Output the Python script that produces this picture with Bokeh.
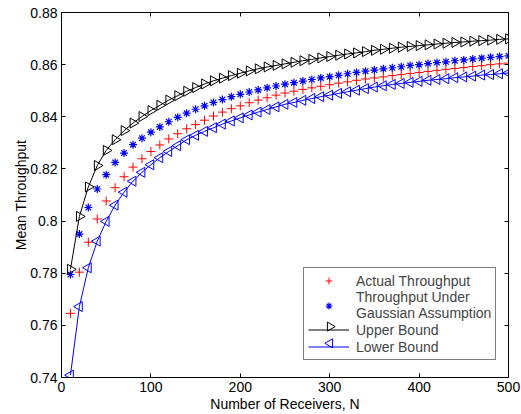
from bokeh.plotting import figure
from bokeh.models import (Range1d, LinearAxis, FixedTicker, CustomJSTickFormatter,
                          Legend, LegendItem)
from bokeh.embed import file_html
from bokeh.resources import INLINE

N = [10, 20, 30, 40, 50, 60, 70, 80, 90, 100,
     110, 120, 130, 140, 150, 160, 170, 180, 190, 200,
     210, 220, 230, 240, 250, 260, 270, 280, 290, 300,
     310, 320, 330, 340, 350, 360, 370, 380, 390, 400,
     410, 420, 430, 440, 450, 460, 470, 480, 490, 500]

upper = [0.7815, 0.8018, 0.8131, 0.8213, 0.8271, 0.8312, 0.8347, 0.8376, 0.8401, 0.8424,
         0.8444, 0.8464, 0.8481, 0.8498, 0.8512, 0.8526, 0.8538, 0.8548, 0.8558, 0.8567,
         0.8576, 0.8584, 0.8591, 0.8597, 0.8603, 0.8609, 0.8615, 0.8620, 0.8626, 0.8631,
         0.8636, 0.8641, 0.8645, 0.8650, 0.8655, 0.8659, 0.8663, 0.8667, 0.8670, 0.8673,
         0.8676, 0.8679, 0.8682, 0.8685, 0.8687, 0.8690, 0.8692, 0.8694, 0.8697, 0.8699]

gaussian = [0.7795, 0.7950, 0.8052, 0.8123, 0.8178, 0.8225, 0.8261, 0.8293, 0.8318, 0.8341,
            0.8361, 0.8381, 0.8398, 0.8414, 0.8429, 0.8442, 0.8455, 0.8466, 0.8477, 0.8486,
            0.8495, 0.8503, 0.8511, 0.8518, 0.8525, 0.8531, 0.8537, 0.8543, 0.8549, 0.8554,
            0.8559, 0.8565, 0.8570, 0.8575, 0.8579, 0.8584, 0.8588, 0.8592, 0.8597, 0.8600,
            0.8604, 0.8608, 0.8611, 0.8615, 0.8618, 0.8622, 0.8625, 0.8628, 0.8631, 0.8634]

actual = [0.7646, 0.7804, 0.7919, 0.8008, 0.8077, 0.8128, 0.8170, 0.8207, 0.8239, 0.8267,
          0.8292, 0.8315, 0.8335, 0.8354, 0.8370, 0.8387, 0.8403, 0.8418, 0.8431, 0.8442,
          0.8454, 0.8464, 0.8473, 0.8483, 0.8491, 0.8498, 0.8505, 0.8511, 0.8517, 0.8523,
          0.8529, 0.8534, 0.8540, 0.8545, 0.8549, 0.8553, 0.8558, 0.8562, 0.8566, 0.8570,
          0.8574, 0.8578, 0.8582, 0.8585, 0.8589, 0.8593, 0.8596, 0.8600, 0.8603, 0.8606]

lower = [0.7409, 0.7672, 0.7821, 0.7923, 0.7999, 0.8061, 0.8111, 0.8153, 0.8187, 0.8216,
         0.8243, 0.8267, 0.8289, 0.8312, 0.8329, 0.8344, 0.8358, 0.8372, 0.8384, 0.8396,
         0.8407, 0.8418, 0.8428, 0.8438, 0.8448, 0.8455, 0.8463, 0.8470, 0.8477, 0.8483,
         0.8490, 0.8496, 0.8502, 0.8508, 0.8514, 0.8519, 0.8524, 0.8528, 0.8532, 0.8536,
         0.8540, 0.8543, 0.8546, 0.8550, 0.8553, 0.8556, 0.8560, 0.8562, 0.8565, 0.8568]

x_ticks = [0, 100, 200, 300, 400, 500]
y_ticks = [0.74, 0.76, 0.78, 0.80, 0.82, 0.84, 0.86, 0.88]

labels = ["Actual Throughput", "Throughput Under\nGaussian Assumption",
          "Upper Bound", "Lower Bound"]

FONT = "Liberation Sans"
FS = "14px"
X0, X1, Y0, Y1 = 0, 500, 0.74, 0.88
FRAME_W, FRAME_H = 447, 367

p = figure(width=521, height=414, output_backend="svg", toolbar_location=None,
           x_range=Range1d(X0, X1), y_range=Range1d(Y0, Y1),
           min_border_left=61, min_border_top=12, min_border_right=13, min_border_bottom=35,
           background_fill_color="white", border_fill_color="white")
p.grid.visible = False
p.outline_line_color = "black"
p.outline_line_width = 1

p.xaxis.ticker = FixedTicker(ticks=x_ticks)
p.yaxis.ticker = FixedTicker(ticks=y_ticks)
p.yaxis.formatter = CustomJSTickFormatter(code="return String(Number(tick.toFixed(2)));")
p.xaxis.axis_label = "Number of Receivers, N"
p.yaxis.axis_label = "Mean Throughput"
for ax in (p.xaxis[0], p.yaxis[0]):
    ax.major_tick_in = 4
    ax.major_tick_out = 0
    ax.minor_tick_line_color = None
    ax.axis_line_color = "black"
    ax.major_tick_line_color = "black"
    ax.major_label_text_font = FONT
    ax.major_label_text_font_size = FS
    ax.major_label_text_color = "black"
    ax.axis_label_text_font = FONT
    ax.axis_label_text_font_size = FS
    ax.axis_label_text_font_style = "normal"
    ax.axis_label_text_color = "black"
p.xaxis.major_label_standoff = 4
p.xaxis.axis_label_standoff = 1
p.yaxis.major_label_standoff = 4
p.yaxis.axis_label_standoff = -2

hide = CustomJSTickFormatter(code="return '';")
top = LinearAxis(ticker=FixedTicker(ticks=x_ticks), formatter=hide)
right = LinearAxis(ticker=FixedTicker(ticks=y_ticks), formatter=hide)
for ax in (top, right):
    ax.major_tick_in = 4
    ax.major_tick_out = 0
    ax.minor_tick_line_color = None
    ax.major_label_text_color = None
    ax.major_label_text_font_size = "0px"
    ax.major_label_standoff = 0
    ax.axis_line_color = "black"
p.add_layout(top, "above")
p.add_layout(right, "right")

r_act = p.scatter(N, actual, marker="cross", size=9, line_color="#FF0000", line_width=1)
r_gau = p.scatter(N, gaussian, marker="asterisk", size=8, line_color="#0000FF", line_width=1.2)
l_up = p.line(N, upper, line_color="black", line_width=1)
p.scatter(N, upper, marker="triangle", angle=-1.5708, size=10,
          line_color="black", fill_color=None, line_width=1)
l_lo = p.line(N, lower, line_color="#0000FF", line_width=1)
p.scatter(N, lower, marker="triangle", angle=1.5708, size=10,
          line_color="#0000FF", fill_color=None, line_width=1)

LEG_X, LEG_Y = 242, 17
PAD, ROW, GW = 4, 17, 41
legend = Legend(items=[
    LegendItem(label=labels[0], renderers=[r_act]),
    LegendItem(label=labels[1], renderers=[r_gau]),
    LegendItem(label=labels[2], renderers=[l_up]),
    LegendItem(label=labels[3], renderers=[l_lo]),
], location=(LEG_X, LEG_Y))
legend.border_line_color = "black"
legend.border_line_width = 1
legend.background_fill_alpha = 0
legend.label_text_font = FONT
legend.label_text_font_size = FS
legend.glyph_width = GW
legend.glyph_height = ROW
legend.label_height = ROW
legend.label_standoff = 7
legend.padding = PAD
legend.spacing = 0
legend.margin = 0
p.add_layout(legend)

# Legend glyphs ignore marker rotation: draw the legend's triangle symbols
# at the centre of the legend's glyph column (legend layout in screen px -> data).
ROW_EFF = 16.8
leg_px_x = LEG_X + 1 + PAD + GW / 2 + 1
leg_px_y = [LEG_Y + 5 + PAD + ROW_EFF * 1.5, LEG_Y + 5 + PAD + ROW_EFF * 0.5]
sym_x = [X0 + leg_px_x * (X1 - X0) / FRAME_W] * 2
sym_y = [Y0 + py * (Y1 - Y0) / FRAME_H for py in leg_px_y]
p.scatter(sym_x[:1], sym_y[:1], marker="triangle", angle=-1.5708, size=9,
          line_color="black", fill_color=None, line_width=1)
p.scatter(sym_x[1:], sym_y[1:], marker="triangle", angle=1.5708, size=9,
          line_color="#0000FF", fill_color=None, line_width=1)

open("out.html", "w").write(file_html(p, INLINE))
